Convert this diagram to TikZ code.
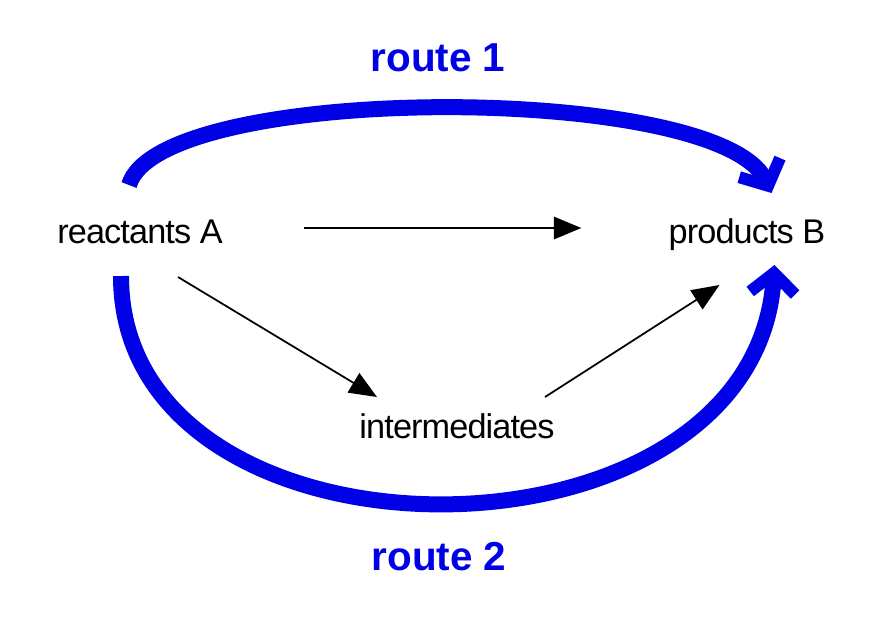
\documentclass[tikz,border=0pt]{standalone}
\usepackage{fontspec}
\setmainfont{Liberation Sans}[LetterSpace=-2.6]
\newfontfamily\routefont{Liberation Sans}
\usetikzlibrary{arrows.meta}
\definecolor{routeblue}{RGB}{0,0,230}
\tikzstyle{chem} = [inner sep=0pt, anchor=base, font=\fontsize{19.5}{23}\selectfont]
\tikzstyle{route} = [draw=routeblue, line width=0.32cm, -{Straight Barb[length=0.4cm, width=0.9cm, line width=0.24cm]}]
\tikzstyle{routelabel} = [text=routeblue, inner sep=0pt, font=\routefont\bfseries\fontsize{23}{27}\selectfont]
\tikzstyle{reaction} = [draw=black, line width=1pt, -{Triangle[length=0.55cm, width=0.45cm]}]

\begin{document}
\begin{tikzpicture}
        \useasboundingbox (0,0) rectangle (17.88,-12.4);
        \matrix[column sep={6.34cm,between origins}, row sep={3.9cm,between origins}, matrix anchor=react.base] at (2.8,-4.86) {
            \node[chem](react){reactants A}; & &[-0.54cm] \node[chem](prod){products B}; \\
            & \node[chem](inter){intermediates}; &[-0.54cm] \\
        };

        \node[routelabel](route1) at (8.76,-1.16) {route 1};
        \node[routelabel](route2) at (8.78,-11.14) {route 2};

        \draw[route] ([shift={(-0.22,1.16)}]react.base) .. controls +(0.62,2.06) and +(-1.04,2.22) .. ([shift={(0.49,1.0)}]prod.base);
        \draw[route] ([shift={(-0.38,-0.66)}]react.base) .. controls +(0,-6.08) and +(-0.42,-6.3) .. ([shift={(0.55,-0.44)}]prod.base);

        \draw[reaction, shorten <=1.62cm, shorten >=1.74cm] ([yshift=0.3cm]react.base east) -- ([yshift=0.3cm]prod.base west);
        \draw[reaction] ([shift={(0.76,-0.68)}]react.base) -- ([shift={(-1.6,0.82)}]inter.base);
        \draw[reaction] ([shift={(1.76,0.82)}]inter.base) -- ([shift={(-0.55,-0.84)}]prod.base);
    \end{tikzpicture}
\end{document}
